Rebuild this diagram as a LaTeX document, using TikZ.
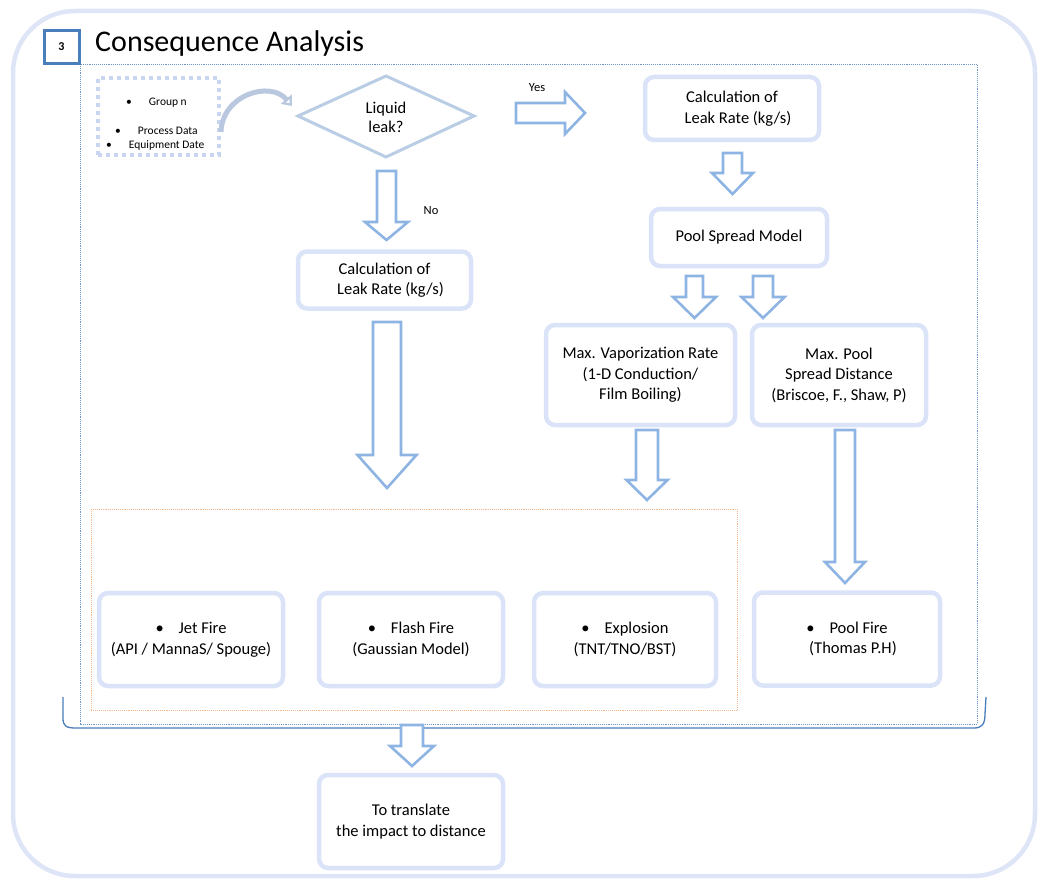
\documentclass[tikz,border=0pt]{standalone}
\usepackage{fontspec}
\setmainfont{Carlito}
\usetikzlibrary{arrows.meta,calc}
\definecolor{outerc}{RGB}{221,229,247}
\definecolor{boxc}{RGB}{218,227,248}
\definecolor{arrc}{RGB}{142,180,227}
\definecolor{diac}{RGB}{185,205,229}
\definecolor{numc}{RGB}{74,126,187}
\definecolor{dotc}{RGB}{110,150,205}
\definecolor{orc}{RGB}{247,185,140}
\definecolor{grpc}{RGB}{200,214,240}
\definecolor{curvc}{RGB}{185,200,222}
\newcommand{\dnarrow}[6]{% cx, ytop, yhead, ytip, shaft half, head half
  \draw[blockarrow] (#1-#5,#2) -- (#1+#5,#2) -- (#1+#5,#3) -- (#1+#6,#3) -- (#1,#4) -- (#1-#6,#3) -- (#1-#5,#3) -- cycle;}
\begin{document}
\begin{tikzpicture}[x=1pt,y=-1pt,
  blockarrow/.style={draw=arrc, line width=2.6pt, fill=white, line join=miter},
  procbox/.style={draw=boxc, line width=4.5pt, rounded corners=9pt, fill=white, align=center,
    font=\fontsize{16.5}{20.5}\selectfont, inner sep=0pt},
  smalltxt/.style={font=\fontsize{12.5}{14}\selectfont, inner sep=0pt},
  grptxt/.style={font=\fontsize{11.5}{13}\selectfont, inner sep=0pt, anchor=west}]
\useasboundingbox (0,0) rectangle (1041,880);
% outer frame
\draw[outerc, line width=4.5pt, rounded corners=62pt] (13,11) rectangle (1035,876);
% inner dotted frame
\draw[dotc, line width=0.9pt, densely dotted] (80,64) rectangle (977,724);
% bracket
\draw[numc, line width=1.3pt] (63,697) -- (63,718) .. controls (63,726) and (66,728) .. (76,728) -- (974,728) .. controls (982,728) and (985,724) .. (985,714) -- (986,697);
% number box and title
\node[draw=numc, line width=3pt, fill=white, minimum width=35pt, minimum height=33pt, inner sep=0pt,
  font=\fontsize{12}{14}\selectfont\bfseries] (num) at (61.5,47) {3};
\node[anchor=west, inner sep=0pt, font=\fontsize{30}{33}\selectfont] (title) at (95,44) {Consequence Analysis};
% orange dotted group
\draw[orc, line width=0.9pt, densely dotted] (91,509) rectangle (737,710);
% group n box
\node[draw=grpc, line width=4pt, dash pattern=on 4pt off 4pt, minimum width=121pt, minimum height=77pt, inner sep=0pt] (grp) at (158,116.5) {};
\node[grptxt] (g1) at (126,103) {\textbullet\hspace{17pt}Group n};
\node[grptxt] (g2) at (115,131) {\textbullet\hspace{17pt}Process Data};
\node[grptxt] (g3) at (106,145) {\textbullet\hspace{17pt}Equipment Date};
% diamond
\coordinate (dl) at (298,116);
\coordinate (dt) at (386,76);
\coordinate (dr) at (474,116);
\coordinate (db) at (386,157);
\draw[diac, line width=3pt, fill=white, line join=miter] (dl) -- (dt) -- (dr) -- (db) -- cycle;
\node[align=center, inner sep=0pt, font=\fontsize{16.5}{19}\selectfont] (dia) at (386,117) {Liquid\\leak?};
% curved arrow
\draw[curvc, line width=5pt, -{Triangle[open, length=9pt, width=14pt, line width=2.5pt]}] (221,132) .. controls (222,95) and (270,80) .. (292,106);
% boxes
\node[procbox, minimum width=174pt, minimum height=63pt] (calcR) at (732,108.5) {Calculation of\\\hspace*{12pt}Leak Rate (kg/s)};
\node[procbox, minimum width=176pt, minimum height=57pt] (pool) at (739,237.5) {Pool Spread Model};
\node[procbox, minimum width=173pt, minimum height=57pt] (calcL) at (384.5,280) {Calculation of\\\hspace*{12pt}Leak Rate (kg/s)};
\node[procbox, minimum width=189pt, minimum height=100pt] (vap) at (640.5,375) {Max. Vaporization Rate\\(1-D Conduction/\\Film Boiling)};
\node[procbox, minimum width=174pt, minimum height=100pt] (maxp) at (839,375) {Max. Pool\\Spread Distance\\(Briscoe, F., Shaw, P)};
\node[procbox, minimum width=184pt, minimum height=93pt] (jet) at (191,639.5) {\textbullet\hspace{15pt}Jet Fire\\(API / MannaS/ Spouge)};
\node[procbox, minimum width=184pt, minimum height=93pt] (flash) at (411,639.5) {\textbullet\hspace{15pt}Flash Fire\\(Gaussian Model)};
\node[procbox, minimum width=182pt, minimum height=93pt] (expl) at (625,639.5) {\textbullet\hspace{15pt}Explosion\\(TNT/TNO/BST)};
\node[procbox, minimum width=186pt, minimum height=93pt] (pfire) at (847,639) {\textbullet\hspace{15pt}Pool Fire\\\hspace*{12pt}(Thomas P.H)};
\node[procbox, minimum width=184pt, minimum height=93pt] (trans) at (411,821.5) {To translate\\the impact to distance};
% labels
\node[smalltxt] (yes) at (537,88) {Yes};
\node[smalltxt] (no) at (431,211) {No};
% block arrows
\draw[blockarrow] (516,103) -- (565,103) -- (565,92) -- (585,113) -- (565,134) -- (565,123) -- (516,123) -- cycle;
\dnarrow{386.5}{171}{222}{240}{9.5}{21.5}
\dnarrow{387}{322}{455}{488}{14}{29.5}
\dnarrow{732.5}{153}{173}{194}{9.5}{20.5}
\dnarrow{694.5}{276}{297}{318}{8.5}{21.5}
\dnarrow{763}{276}{297}{318}{10}{21.5}
\dnarrow{647}{430}{480}{500}{11}{20.5}
\dnarrow{845}{430}{562}{583}{10}{20}
\dnarrow{412}{725}{746}{766}{11}{22}
\end{tikzpicture}
\end{document}
